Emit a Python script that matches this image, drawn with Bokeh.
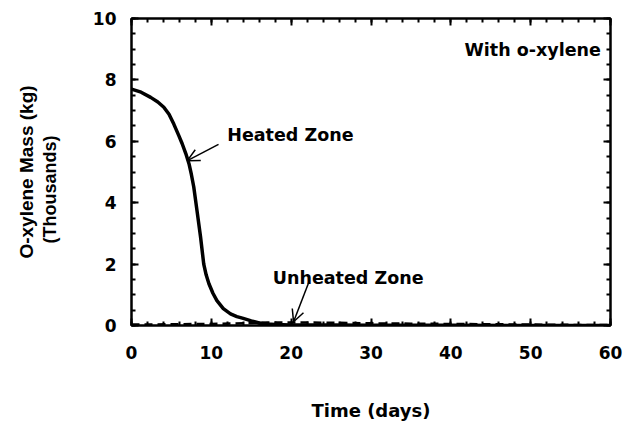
from bokeh.plotting import figure
from bokeh.models import (LinearAxis, SingleIntervalTicker, FixedTicker, Range1d, Arrow,
                          OpenHead, Label, CustomJSTickFormatter)
from bokeh.embed import file_html
from bokeh.resources import INLINE

# Data (thousands of kg)
heated_t = [0, 1.2, 2.4, 3.3, 4.05, 4.7, 5.3, 5.9, 6.35, 6.8, 7.2, 7.5, 7.8, 8.2, 8.65, 9.05, 9.35, 9.7, 10.2, 10.7, 11.5, 12.4, 13.2, 14.0, 15.0, 16.0, 17.0, 18, 20, 25, 30, 40, 50, 60]
heated_m = [7.7, 7.6, 7.43, 7.28, 7.11, 6.88, 6.56, 6.2, 5.92, 5.6, 5.27, 4.92, 4.51, 3.75, 2.88, 2.0, 1.65, 1.36, 1.05, 0.81, 0.55, 0.38, 0.29, 0.23, 0.15, 0.08, 0.05, 0.03, 0.02, 0.02, 0.01, 0.01, 0.0, 0.0]
unheated_t = [0, 5, 10, 15, 17, 20, 25, 30, 35, 40, 45, 50, 55, 60]
unheated_m = [0.03, 0.04, 0.05, 0.08, 0.1, 0.1, 0.09, 0.07, 0.06, 0.05, 0.04, 0.03, 0.02, 0.02]

x_ticks_interval = 10
y_ticks_interval = 2

# Annotations
heated_label = ("Heated Zone", 12.0, 6.19)
heated_arrow = (10.9, 5.9, 7.0, 5.37)
unheated_label = ("Unheated Zone", 17.7, 1.56)
unheated_arrow = (22.2, 1.40, 20.3, 0.12)
corner_label = ("With o-xylene", 58.8, 8.96)

FONT = "DejaVu Sans"
FONT2 = "Liberation Sans"

p = figure(width=628, height=426, output_backend="svg", toolbar_location=None,
           x_range=Range1d(0, 60), y_range=Range1d(0, 10),
           min_border_left=131, min_border_right=18, min_border_top=18, min_border_bottom=101)
p.xgrid.visible = False
p.ygrid.visible = False
p.outline_line_color = "black"
p.outline_line_width = 2
p.background_fill_color = "white"
p.border_fill_color = "white"

blank = CustomJSTickFormatter(code="return ''")

def style_axis(ax, labels=True):
    ax.axis_line_color = "black"
    ax.axis_line_width = 2
    ax.major_tick_in = 7
    ax.major_tick_out = 0
    ax.minor_tick_in = 4
    ax.minor_tick_out = 0
    ax.major_tick_line_width = 2
    ax.minor_tick_line_width = 2
    ax.major_label_text_font = FONT
    ax.major_label_text_font_style = "bold"
    ax.major_label_text_font_size = "17px"
    ax.major_label_text_color = "black"
    if not labels:
        ax.formatter = blank
        ax.major_label_standoff = 0

xa = p.xaxis[0]
xa.ticker = SingleIntervalTicker(interval=x_ticks_interval, num_minor_ticks=5)
style_axis(xa)
xa.major_label_standoff = 20
xa.axis_label = "Time (days)"
xa.axis_label_text_font = FONT
xa.axis_label_text_font_style = "bold"
xa.axis_label_text_font_size = "18px"
xa.axis_label_text_color = "black"
xa.axis_label_standoff = 38

ya = p.yaxis[0]
ya.ticker = SingleIntervalTicker(interval=y_ticks_interval, num_minor_ticks=4)
style_axis(ya)
ya.major_label_standoff = 15
ya.axis_label = "(Thousands)\u00a0\u00a0\u00a0\u00a0\u00a0\u00a0\u00a0"
ya.axis_label_text_font = FONT2
ya.axis_label_text_font_style = "bold"
ya.axis_label_text_font_size = "18px"
ya.axis_label_text_color = "black"
ya.axis_label_standoff = 30

ya2 = LinearAxis(ticker=FixedTicker(ticks=[]))
ya2.axis_line_color = None
ya2.major_tick_line_color = None
ya2.minor_tick_line_color = None
ya2.major_label_standoff = 0
ya2.axis_label = "O-xylene Mass (kg)"
ya2.axis_label_text_font = FONT2
ya2.axis_label_text_font_style = "bold"
ya2.axis_label_text_font_size = "19px"
ya2.axis_label_text_color = "black"
ya2.axis_label_standoff = 0
p.add_layout(ya2, "left")

ra = LinearAxis(ticker=SingleIntervalTicker(interval=y_ticks_interval, num_minor_ticks=4))
style_axis(ra, labels=False)
p.add_layout(ra, "right")

ta = LinearAxis(ticker=SingleIntervalTicker(interval=x_ticks_interval, num_minor_ticks=5))
style_axis(ta, labels=False)
p.add_layout(ta, "above")

p.line(heated_t, heated_m, line_color="black", line_width=3.5, line_join="round")
p.line(unheated_t, unheated_m, line_color="black", line_width=2.5, line_dash="8 5")

for (txt, x, y) in [heated_label, unheated_label]:
    p.add_layout(Label(x=x, y=y, text=txt, text_font=FONT, text_font_style="bold",
                       text_font_size="17.5px", text_baseline="middle", text_align="left",
                       text_color="black"))
txt, x, y = corner_label
p.add_layout(Label(x=x, y=y, text=txt, text_font=FONT, text_font_style="bold",
                   text_font_size="17.5px", text_baseline="middle", text_align="right",
                   text_color="black"))

for (x0, y0, x1, y1) in [heated_arrow, unheated_arrow]:
    p.add_layout(Arrow(end=OpenHead(size=12, line_width=1.5, line_color="black"),
                       x_start=x0, y_start=y0, x_end=x1, y_end=y1,
                       line_width=1.5, line_color="black"))

open("out.html", "w").write(file_html(p, INLINE))
